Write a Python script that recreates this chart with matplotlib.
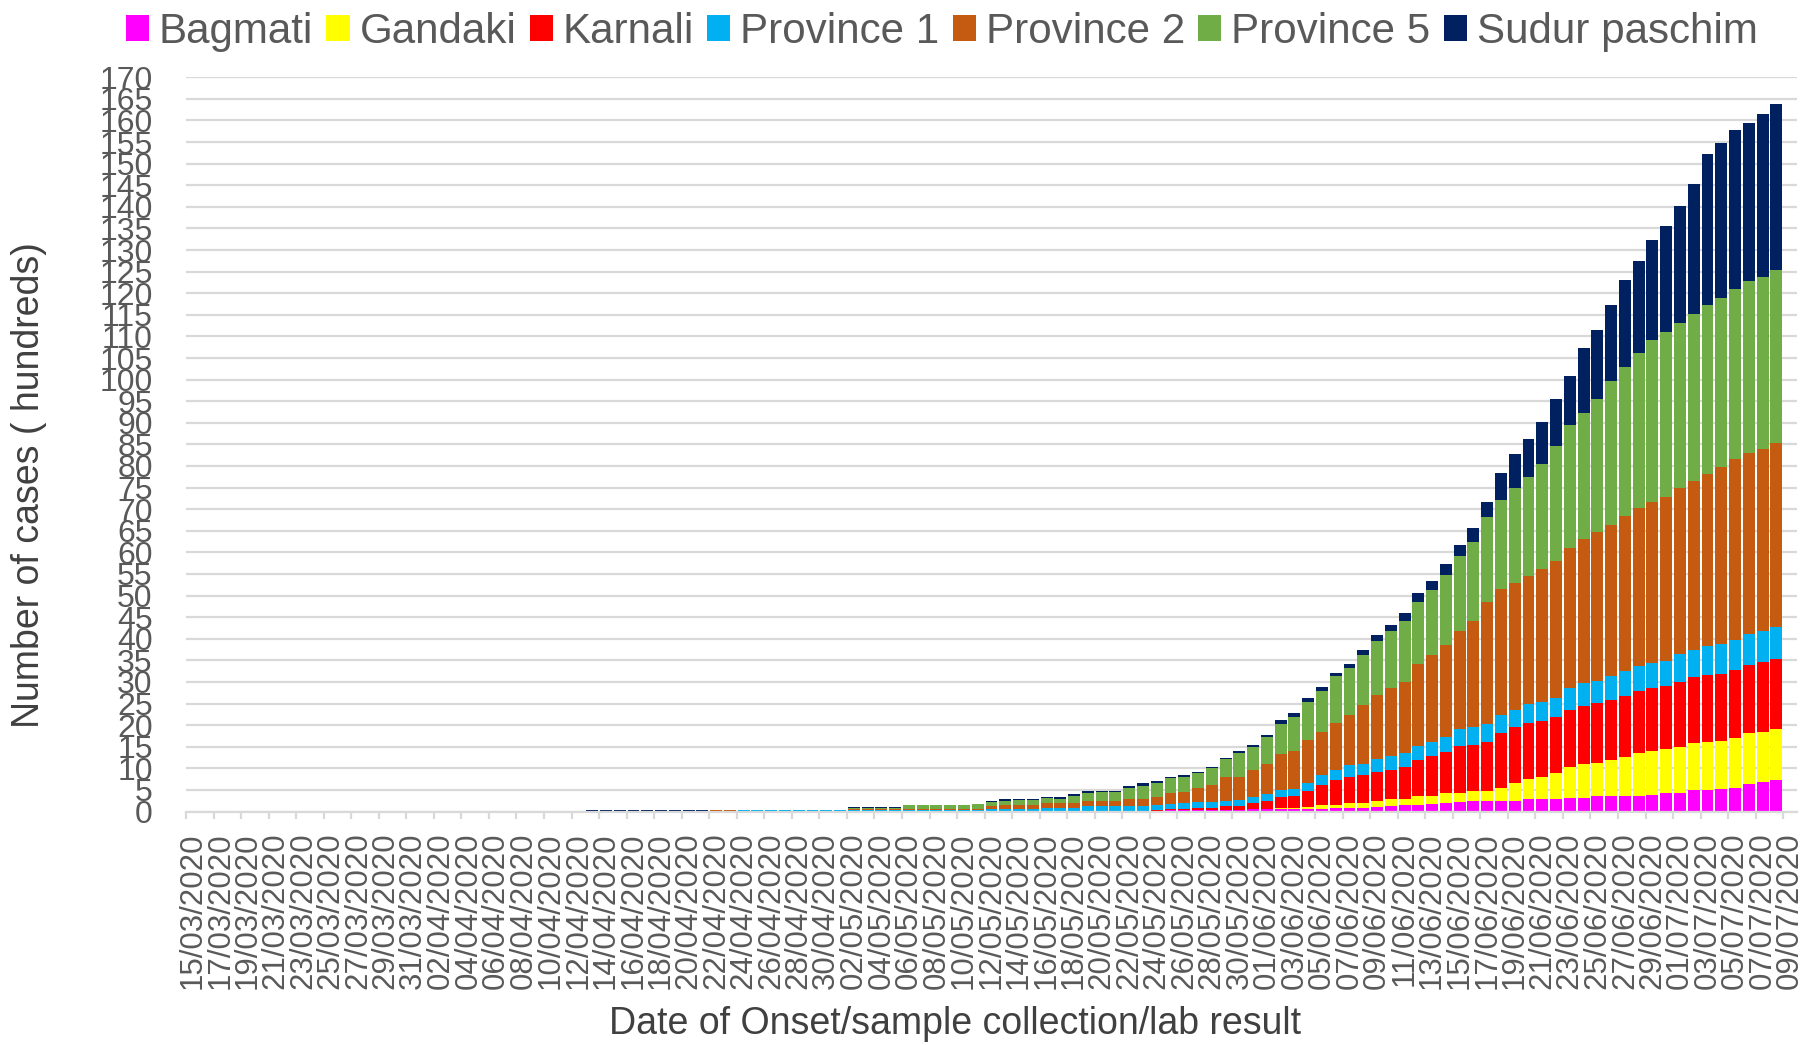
import numpy as np
import pandas as pd
import matplotlib
matplotlib.use('Agg')
import matplotlib.pyplot as plt

plt.rcParams['font.family'] = ['Liberation Sans', 'DejaVu Sans']

# one category per day, labels every second day
dates = pd.date_range('2020-03-15', '2020-07-09', freq='D')
date_labels = [d.strftime('%d/%m/%Y') for d in dates]

provinces = ['Bagmati', 'Gandaki', 'Karnali', 'Province 1', 'Province 2', 'Province 5', 'Sudur paschim']
colors = ['#FF00FF', '#FFFF00', '#FF0000', '#00B0F0', '#C55A11', '#70AD47', '#002060']

# cumulative cases (hundreds); 15/03-12/04 are zero, 09/07 has no bar
bagmati = [0] * 29 + [
    0, 0, 0, 0, 0, 0, 0, 0, 0, 0,
    0, 0, 0, 0, 0, 0, 0, 0, 0, 0,
    0, 0, 0, 0, 0, 0, 0, 0, 0, 0,
    0, 0, 0, 0, 0, 0, 0, 0, 0, 0,
    0, 0, 0.3, 0.3, 0.3, 0.3, 0.3, 0.3, 0.5, 0.5,
    0.5, 0.5, 0.5, 0.5, 0.7, 0.7, 0.7, 1.1, 1.3, 1.5,
    1.5, 1.7, 1.9, 2.2, 2.4, 2.4, 2.4, 2.5, 2.9, 2.9,
    2.9, 3.2, 3.2, 3.5, 3.5, 3.7, 3.7, 3.9, 4.3, 4.3,
    4.9, 4.9, 5.3, 5.5, 6.4, 6.8, 7.2] + [0]

gandaki = [0] * 29 + [
    0, 0, 0, 0, 0, 0, 0, 0, 0, 0,
    0, 0, 0, 0, 0, 0, 0, 0, 0, 0,
    0, 0, 0, 0, 0, 0, 0, 0, 0, 0,
    0, 0, 0, 0, 0, 0, 0, 0, 0, 0.1,
    0.1, 0.1, 0.1, 0.1, 0.1, 0.1, 0.1, 0.1, 0.1, 0.1,
    0.2, 0.3, 0.6, 1.0, 0.9, 1.2, 1.2, 1.4, 1.6, 1.5,
    2.1, 2.0, 2.3, 2.1, 2.3, 2.3, 3.0, 4.1, 4.7, 5.2,
    6.1, 7.2, 7.7, 7.8, 8.5, 8.9, 9.8, 10.1, 10.1, 10.6,
    11.0, 11.2, 11.1, 11.5, 11.8, 11.7, 12.0] + [0]

karnali = [0] * 29 + [
    0, 0, 0, 0, 0, 0, 0, 0, 0, 0,
    0, 0, 0, 0, 0, 0, 0, 0, 0, 0,
    0, 0, 0, 0, 0, 0, 0, 0, 0, 0.1,
    0.1, 0.1, 0.1, 0.1, 0.1, 0.1, 0.1, 0.1, 0.1, 0.1,
    0.1, 0.2, 0.2, 0.2, 0.4, 0.5, 0.8, 0.8, 1.3, 1.9,
    2.7, 2.7, 3.7, 4.6, 5.6, 6.1, 6.5, 6.6, 6.7, 7.4,
    8.3, 9.1, 9.5, 10.8, 10.8, 11.5, 12.8, 12.9, 12.9, 12.9,
    12.9, 13.2, 13.6, 13.9, 13.9, 14.1, 14.3, 14.6, 14.6, 15.2,
    15.2, 15.4, 15.5, 15.7, 15.8, 16.1, 16.2] + [0]

province1 = [0] * 29 + [
    0.1, 0.1, 0.1, 0.1, 0.1, 0.1, 0.1, 0.1, 0.1, 0.1,
    0.1, 0.25, 0.25, 0.25, 0.25, 0.25, 0.25, 0.25, 0.25, 0.4,
    0.4, 0.4, 0.4, 0.4, 0.4, 0.4, 0.4, 0.4, 0.4, 0.4,
    0.4, 0.4, 0.4, 0.8, 0.8, 0.8, 1.1, 1.1, 1.1, 1.1,
    1.1, 1.2, 1.2, 1.3, 1.3, 1.3, 1.3, 1.5, 1.5, 1.6,
    1.6, 1.8, 1.9, 2.3, 2.5, 2.7, 2.7, 3.1, 3.3, 3.2,
    3.3, 3.3, 3.6, 4.1, 4.0, 4.1, 4.2, 4.1, 4.5, 4.4,
    4.4, 5.0, 5.2, 5.1, 5.4, 5.8, 5.9, 5.8, 5.8, 6.3,
    6.4, 6.8, 6.8, 6.9, 7.2, 7.1, 7.3] + [0]

province2 = [0] * 29 + [
    0, 0, 0, 0, 0, 0, 0, 0, 0, 0.15,
    0.15, 0.1, 0.1, 0.1, 0.1, 0.1, 0.1, 0.1, 0.1, 0.1,
    0.1, 0.1, 0.1, 0.2, 0.2, 0.2, 0.2, 0.2, 0.2, 0.7,
    1.1, 1.1, 1.1, 1.0, 1.0, 1.1, 1.3, 1.3, 1.3, 1.7,
    1.6, 1.9, 2.5, 2.7, 3.3, 4.0, 5.4, 5.4, 6.1, 6.8,
    8.3, 8.7, 9.8, 10.1, 10.9, 11.6, 13.5, 14.8, 15.7, 16.5,
    18.9, 20.1, 21.3, 22.7, 24.5, 28.2, 29.2, 29.4, 29.6, 30.7,
    31.7, 32.4, 33.4, 34.4, 35.1, 35.9, 36.6, 37.3, 38.0, 38.5,
    39.0, 39.9, 41.0, 42.0, 41.8, 42.3, 42.6] + [0]

province5 = [0] * 29 + [
    0, 0, 0, 0, 0, 0, 0, 0, 0, 0,
    0, 0, 0, 0, 0, 0, 0, 0, 0, 0.4,
    0.4, 0.4, 0.4, 0.9, 0.9, 0.9, 0.9, 0.9, 1.1, 1.0,
    0.9, 1.0, 1.0, 1.2, 1.1, 1.6, 1.7, 1.9, 1.9, 2.4,
    3.0, 3.2, 3.4, 3.4, 3.4, 3.8, 4.2, 5.5, 5.4, 6.3,
    6.9, 7.8, 8.9, 9.5, 10.7, 10.9, 11.7, 12.4, 13.3, 14.0,
    14.3, 15.0, 16.2, 17.2, 18.4, 19.7, 20.6, 21.9, 22.9, 24.3,
    26.7, 28.4, 29.2, 30.9, 33.2, 34.5, 35.8, 37.5, 38.2, 38.3,
    38.7, 39.0, 39.2, 39.4, 39.9, 39.7, 40.1] + [0]

sudur_paschim = [0] * 29 + [
    0.2, 0.2, 0.2, 0.2, 0.2, 0.2, 0.2, 0.2, 0.2, 0.1,
    0.1, 0.1, 0.1, 0.1, 0.1, 0.1, 0.1, 0.1, 0.1, 0.1,
    0.1, 0.1, 0.1, 0.1, 0.1, 0.1, 0.1, 0.1, 0.1, 0.2,
    0.4, 0.4, 0.4, 0.3, 0.3, 0.4, 0.5, 0.4, 0.4, 0.4,
    0.6, 0.5, 0.4, 0.4, 0.3, 0.4, 0.4, 0.5, 0.5, 0.6,
    1.0, 1.0, 0.9, 0.9, 0.8, 0.9, 1.2, 1.5, 1.3, 1.9,
    2.1, 2.1, 2.5, 2.7, 3.2, 3.5, 6.2, 7.8, 8.8, 9.9,
    10.8, 11.5, 15.1, 15.9, 17.7, 20.2, 21.4, 23.2, 24.5, 27.1,
    30.0, 35.1, 35.9, 36.7, 36.5, 37.9, 38.5] + [0]

series = [bagmati, gandaki, karnali, province1, province2, province5, sudur_paschim]

W, H = 1804, 1045
fig = plt.figure(figsize=(W / 100, H / 100), dpi=100)
ax = fig.add_axes([186 / W, (H - 811.5) / H, 1611 / W, 734.2 / H])

x = np.arange(len(dates))
bottom = np.zeros(len(x))
for name, vals, col in zip(provinces, series, colors):
    vals = np.array(vals, dtype=float)
    ax.bar(x, vals, width=0.87, bottom=bottom, color=col, label=name, linewidth=0, zorder=2)
    bottom += vals

ax.set_xlim(-0.5, len(x) - 0.5)
ax.set_ylim(0, 170)
ax.set_yticks(np.arange(0, 171, 5))
ax.yaxis.grid(True, color='#d9d9d9', linewidth=1.6, zorder=0)
ax.set_axisbelow(True)
for s in ['left', 'right', 'top']:
    ax.spines[s].set_visible(False)
ax.spines['bottom'].set_color('#d9d9d9')
ax.spines['bottom'].set_linewidth(1.6)

ax.tick_params(axis='y', length=0, pad=24, labelsize=23, labelcolor='#595959')
ax.set_xticks(x[::2])
ax.set_xticklabels(date_labels[::2], rotation=90)
ax.set_xticks(np.arange(-0.5, len(x) - 1, 2), minor=True)
ax.tick_params(axis='x', which='major', length=0, pad=15, labelsize=22.5, labelcolor='#595959')
ax.tick_params(axis='x', which='minor', length=5, width=1.6, color='#d9d9d9')

fig.legend(ncol=7, loc='center', bbox_to_anchor=(0.522, 1 - 32 / H), frameon=False,
           fontsize=30.3, handlelength=0.55, handleheight=0.55, handletextpad=0.24,
           columnspacing=0.31, labelcolor='#595959', borderpad=0)

fig.text(29 / W, 1 - 485 / H, 'Number of cases ( hundreds)', rotation=90,
         fontsize=27, ha='center', va='center', color='#404040')
fig.text(955 / W, 1 - 1024 / H, 'Date of Onset/sample collection/lab result',
         fontsize=27, ha='center', va='center', color='#404040')

fig.savefig('out.png', dpi=100)
